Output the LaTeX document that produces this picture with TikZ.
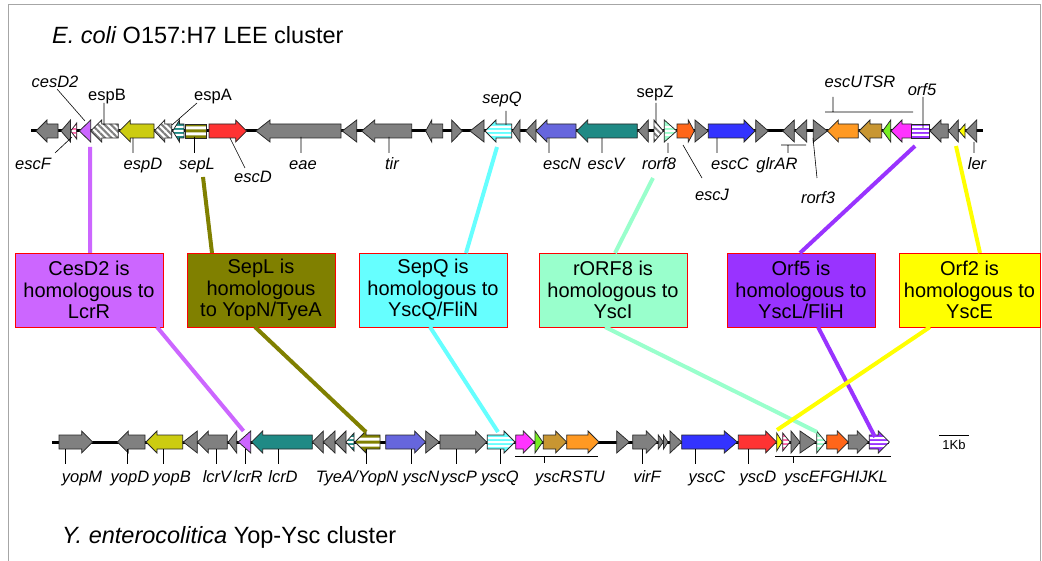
\documentclass[tikz,border=0pt]{standalone}
\usepackage{fontspec}
\setmainfont{Liberation Sans}
\usetikzlibrary{patterns.meta}
\definecolor{gr}{HTML}{808080}
\definecolor{vio}{HTML}{CC66FF}
\definecolor{ylw}{HTML}{CCCC11}
\definecolor{olv}{HTML}{808000}
\definecolor{redA}{HTML}{FF3333}
\definecolor{cyn}{HTML}{66FFFF}
\definecolor{slb}{HTML}{6666DD}
\definecolor{tea}{HTML}{1F8A85}
\definecolor{mnt}{HTML}{99FFCC}
\definecolor{orgA}{HTML}{FF6619}
\definecolor{blu}{HTML}{3333FF}
\definecolor{orgB}{HTML}{FF9922}
\definecolor{gld}{HTML}{C89632}
\definecolor{grn}{HTML}{77EE22}
\definecolor{mag}{HTML}{FF33FF}
\definecolor{pur}{HTML}{9933FF}
\definecolor{ylB}{HTML}{FFFF00}
\definecolor{pnk}{HTML}{FF66AA}
\tikzset{
  gene/.style={draw=black!85, line width=0.75pt, fill=gr},
  st3/.style={fill=#1, path picture={\fill[white]
    ([yshift=-5pt]path picture bounding box.west) rectangle ([yshift=-3pt]path picture bounding box.east)
    ([yshift=-1pt]path picture bounding box.west) rectangle ([yshift=1pt]path picture bounding box.east)
    ([yshift=3pt]path picture bounding box.west) rectangle ([yshift=5pt]path picture bounding box.east);}},
  st2/.style={fill=#1, path picture={\fill[white]
    ([yshift=-4.5pt]path picture bounding box.west) rectangle ([yshift=-1.5pt]path picture bounding box.east)
    ([yshift=1.5pt]path picture bounding box.west) rectangle ([yshift=4.5pt]path picture bounding box.east);}},
  hatch/.style={preaction={fill=white}, pattern={Lines[angle=-45,distance=4.5pt,line width=2.1pt]}, pattern color=gr},
  bb/.style={line width=3pt, black},
  lead/.style={black, line width=0.6pt},
  lab/.style={font=\fontsize{16.5}{18}\selectfont\itshape, inner sep=0pt, anchor=base},
  labn/.style={font=\fontsize{16.5}{18}\selectfont, inner sep=0pt, anchor=base},
  ttl/.style={font=\fontsize{23.5}{26}\selectfont, inner sep=0pt, anchor=base west},
  hbox/.style={draw=red, line width=0.8pt, minimum width=148pt, minimum height=74pt, inner sep=0pt,
    align=center, font=\fontsize{20}{21.5}\selectfont},
  conn/.style={line width=4pt}
}
\newcommand\geneR[5][11]{\path[gene,#5] (#2,{#4-7}) -- ({#3-min(#1,0.6*(#3-#2))},{#4-7}) -- ({#3-min(#1,0.6*(#3-#2))},{#4-11}) -- (#3,#4) -- ({#3-min(#1,0.6*(#3-#2))},{#4+11}) -- ({#3-min(#1,0.6*(#3-#2))},{#4+7}) -- (#2,{#4+7}) -- cycle;}
\newcommand\geneL[5][11]{\path[gene,#5] (#3,{#4-7}) -- ({#2+min(#1,0.6*(#3-#2))},{#4-7}) -- ({#2+min(#1,0.6*(#3-#2))},{#4-11}) -- (#2,#4) -- ({#2+min(#1,0.6*(#3-#2))},{#4+11}) -- ({#2+min(#1,0.6*(#3-#2))},{#4+7}) -- (#3,{#4+7}) -- cycle;}
\newcommand\geneB[4]{\path[gene,#4] (#1,{#3-7}) rectangle (#2,{#3+7});}
\newcommand\triR[5][11]{\path[gene,#5] (#2,{#4-#1}) -- (#3,#4) -- (#2,{#4+#1}) -- cycle;}
\newcommand\triL[5][11]{\path[gene,#5] (#3,{#4-#1}) -- (#2,#4) -- (#3,{#4+#1}) -- cycle;}
\begin{document}
\begin{tikzpicture}[x=1pt,y=-1pt]
\useasboundingbox (0,0) rectangle (1042,561);
\fill[white] (0,0) rectangle (1042,561);
\draw[gray!70, line width=1pt] (8,561) -- (8,5) -- (1040,5) -- (1040,561);

% titles
\node[ttl] (t1) at (52,44) {\itshape E. coli\upshape{} O157:H7 LEE cluster};
\node[ttl] (t2) at (62,543) {\itshape Y. enterocolitica\upshape{} Yop-Ysc cluster};

% ---------------- top track -----------------
\draw[bb] (31,131) -- (983,131);
\geneL{36}{58}{131}{}
\triL{61}{70.5}{131}{}
\triL[8]{70.7}{76.7}{131}{st3=pnk}
\triL{79.3}{90.7}{131}{fill=vio}
\geneL{90.7}{118.3}{131}{hatch}
\geneL{119.3}{154}{131}{fill=ylw}
\geneL{154.3}{171.7}{131}{hatch}
\geneL{172.7}{184}{131}{st3=tea}
\geneB{185}{206}{131}{st2=olv}
\geneR{209}{246.7}{131}{fill=redA}
\geneL[14]{256}{341}{131}{}
\triL{342.3}{356.7}{131}{}
\geneL[13]{361.7}{411.7}{131}{}
\geneL[6]{425.7}{442.7}{131}{}
\triR{451.7}{462.3}{131}{}
\triL{470}{484}{131}{}
\geneL{485}{511.7}{131}{st3=cyn}
\triL{512.3}{520}{131}{}
\triL{525.7}{536}{131}{}
\geneL{536}{576}{131}{fill=slb}
\geneL{576.7}{637.3}{131}{fill=tea}
\triL{638.3}{648.3}{131}{}
\triR{654}{663.3}{131}{hatch}
\triR{664.3}{676.7}{131}{st3=mnt}
\geneR[6]{677}{694.3}{131}{fill=orgA}
\triR{695}{708.3}{131}{}
\geneR{708.3}{755}{131}{fill=blu}
\triR{755.7}{768.3}{131}{}
\triL{782.7}{794.3}{131}{}
\triL{795}{806.7}{131}{}
\triR{813.3}{827.3}{131}{}
\geneL{827.3}{858.3}{131}{fill=orgB}
\geneL{859}{881.7}{131}{fill=gld}
\triL{882.7}{890.7}{131}{fill=grn}
\geneL{891}{911.7}{131}{fill=mag}
\geneB{911.7}{929.3}{131}{st3=pur}
\geneL{930}{948.3}{131}{}
\triL{948.3}{958.3}{131}{}
\triL[7]{959}{965}{131}{fill=ylB}
\triL{965.7}{976.7}{131}{}

% top labels
\node[lab] (cesD2) at (55,88) {cesD2};
\node[labn] (espB) at (107,101) {espB};
\node[labn] (espA) at (213,101) {espA};
\node[lab] (escF) at (33,170) {escF};
\node[lab] (espD) at (143,170) {espD};
\node[lab] (sepL) at (197,170) {sepL};
\node[lab] (escD) at (253,183) {escD};
\node[lab] (eae) at (303,170) {eae};
\node[lab] (tir) at (392,170) {tir};
\node[lab] (sepQ) at (502,104) {sepQ};
\node[lab] (escN) at (562,170) {escN};
\node[lab] (escV) at (606,170) {escV};
\node[labn] (sepZ) at (655,98) {sepZ};
\node[lab] (rorf8) at (659,170) {rorf8};
\node[lab] (escJ) at (712,201) {escJ};
\node[lab] (escC) at (730,170) {escC};
\node[lab] (glrAR) at (777,170) {glrAR};
\node[lab] (rorf3) at (818,204) {rorf3};
\node[lab] (escUTSR) at (860,88) {escUTSR};
\node[lab] (orf5) at (922,96) {orf5};
\node[lab] (ler) at (977,170) {ler};

\coordinate (a1) at (57,89);   \coordinate (a2) at (85,121);
\coordinate (b1) at (104,103); \coordinate (b2) at (104,125);
\coordinate (c1) at (197,103); \coordinate (c2) at (172,125);
\coordinate (d1) at (55,153);  \coordinate (d2) at (72,137);
\draw[lead] (a1) -- (a2) (b1) -- (b2) (c1) -- (c2) (d1) -- (d2);
\draw[lead] (133,138) -- (133,153) (194.5,137) -- (194.5,153) (230,138) -- (245,168)
  (301,137) -- (301,153) (389,137) -- (389,153) (506,111) -- (506,125)
  (549,138) -- (549,153) (602,138) -- (602,153) (656,103) -- (656,123)
  (668,143) -- (668,153) (683,145) -- (702,178) (717,138) -- (717,153)
  (781,145) -- (806,145) (788,145) -- (788,153) (813,138) -- (817,178)
  (825,112) -- (913,112) (833,97) -- (833,112) (923,97) -- (923,128)
  (974,142) -- (974,153);

% ---------------- bottom track -----------------
\draw[bb] (52,442) -- (889,442);
\geneR{59}{92.7}{442}{}
\geneL{117.3}{145}{442}{}
\geneL{146}{182.7}{442}{fill=ylw}
\triL{183.3}{197.3}{442}{}
\geneL{197.3}{227.3}{442}{}
\triL{228.3}{236.7}{442}{}
\triL{238.3}{250.7}{442}{fill=vio}
\geneL{251.7}{312.3}{442}{fill=tea}
\triL{312.3}{323.3}{442}{}
\triL{323.3}{335}{442}{}
\triL{335}{346}{442}{}
\triL[9]{346}{354}{442}{st3=tea}
\geneL{355}{380}{442}{st2=olv}
\geneR{385.7}{425.7}{442}{fill=slb}
\triR{425.7}{439.3}{442}{}
\geneR{440}{486.7}{442}{}
\geneR{487.3}{515}{442}{st3=cyn}
\geneR{515.7}{534.3}{442}{fill=mag}
\triR{535}{542.7}{442}{fill=grn}
\geneR{543.3}{566.7}{442}{fill=gld}
\geneR{566.7}{599}{442}{fill=orgB}
\triR{616.7}{629.3}{442}{}
\geneR{632.7}{657.3}{442}{}
\triR[7]{658.3}{663.3}{442}{}
\triR[7]{663.5}{668}{442}{}
\triR{670}{681.7}{442}{}
\geneR[13]{681.7}{737.3}{442}{fill=blu}
\geneR{738.3}{776.7}{442}{fill=redA}
\triR[9]{776.7}{782.3}{442}{fill=ylB}
\triR[9]{782.7}{790}{442}{st3=pnk}
\triR{791}{800}{442}{}
\triR{800}{816}{442}{}
\triR{816.7}{825.7}{442}{st3=mnt}
\geneR{826.7}{848.3}{442}{fill=orgA}
\geneR{848.3}{868.3}{442}{}
\geneR{869.3}{889.3}{442}{st3=pur}

% bottom labels
\node[lab] (yopM) at (82,482) {yopM};
\node[lab] (yopD) at (130,482) {yopD};
\node[lab] (yopB) at (172,482) {yopB};
\node[lab] (lcrV) at (217,482) {lcrV};
\node[lab] (lcrR) at (248,482) {lcrR};
\node[lab] (lcrD) at (283,482) {lcrD};
\node[lab] (tyeA) at (357,482) {TyeA/YopN};
\node[lab] (yscN) at (421,482) {yscN};
\node[lab] (yscP) at (459,482) {yscP};
\node[lab] (yscQ) at (500,482) {yscQ};
\node[lab] (yscRSTU) at (570,482) {yscRSTU};
\node[lab] (virF) at (647,482) {virF};
\node[lab] (yscC) at (707,482) {yscC};
\node[lab] (yscD) at (758,482) {yscD};
\node[lab] (yscEL) at (836,482) {yscEFGHIJKL};
\node[font=\fontsize{13}{15}\selectfont, inner sep=0pt, anchor=base] (kb) at (954,449) {1Kb};
\draw[lead] (939,435) -- (969,435);
\foreach \xx in {65.7,127.7,163.3,216.7,245,278.3,366.7,411,456,500,642.7,695,748.3}
  \draw[lead] (\xx,449) -- (\xx,464);
\draw[lead] (515,456) -- (598,456) (544,456) -- (544,463)
  (775,456) -- (891,456) (793,456) -- (793,463);

% ---------------- boxes -----------------
\node[hbox, fill=vio] (h1) at (89,290) {CesD2 is\\homologous to\\LcrR};
\node[hbox, fill=olv] (h2) at (261,290) {SepL is\\homologous\\to YopN/TyeA};
\node[hbox, fill=cyn] (h3) at (433,290) {SepQ is\\homologous to\\YscQ/FliN};
\node[hbox, fill=mnt] (h4) at (613,290) {rORF8 is\\homologous to\\YscI};
\node[hbox, fill=pur] (h5) at (801,290) {Orf5 is\\homologous to\\YscL/FliH};
\node[hbox, fill=ylB, minimum width=141pt] (h6) at (969.5,290) {Orf2 is\\homologous to\\YscE};

% ---------------- connectors -----------------
\coordinate (p1a) at (90,147);  \coordinate (p1b) at (90,253);
\coordinate (p1c) at (157,327); \coordinate (p1d) at (243.5,431);
\coordinate (p2a) at (203,177); \coordinate (p2b) at (212,253);
\coordinate (p2c) at (255,327); \coordinate (p2d) at (366,432);
\coordinate (p3a) at (497,147); \coordinate (p3b) at (466,253);
\coordinate (p3c) at (430,327); \coordinate (p3d) at (498,432);
\coordinate (p4a) at (653,178); \coordinate (p4b) at (615,253);
\coordinate (p4c) at (605,327); \coordinate (p4d) at (817,432);
\coordinate (p5a) at (915,146); \coordinate (p5b) at (800,253);
\coordinate (p5c) at (818,327); \coordinate (p5d) at (875,437);
\coordinate (p6a) at (956,146); \coordinate (p6b) at (980,253);
\coordinate (p6c) at (930,327); \coordinate (p6d) at (777,430);
\draw[conn, vio] (p1a) -- (p1b) (p1c) -- (p1d);
\draw[conn, olv] (p2a) -- (p2b) (p2c) -- (p2d);
\draw[conn, cyn] (p3a) -- (p3b) (p3c) -- (p3d);
\draw[conn, mnt] (p4a) -- (p4b) (p4c) -- (p4d);
\draw[conn, pur] (p5a) -- (p5b) (p5c) -- (p5d);
\draw[conn, ylB] (p6a) -- (p6b) (p6c) -- (p6d);
\end{tikzpicture}
\end{document}
